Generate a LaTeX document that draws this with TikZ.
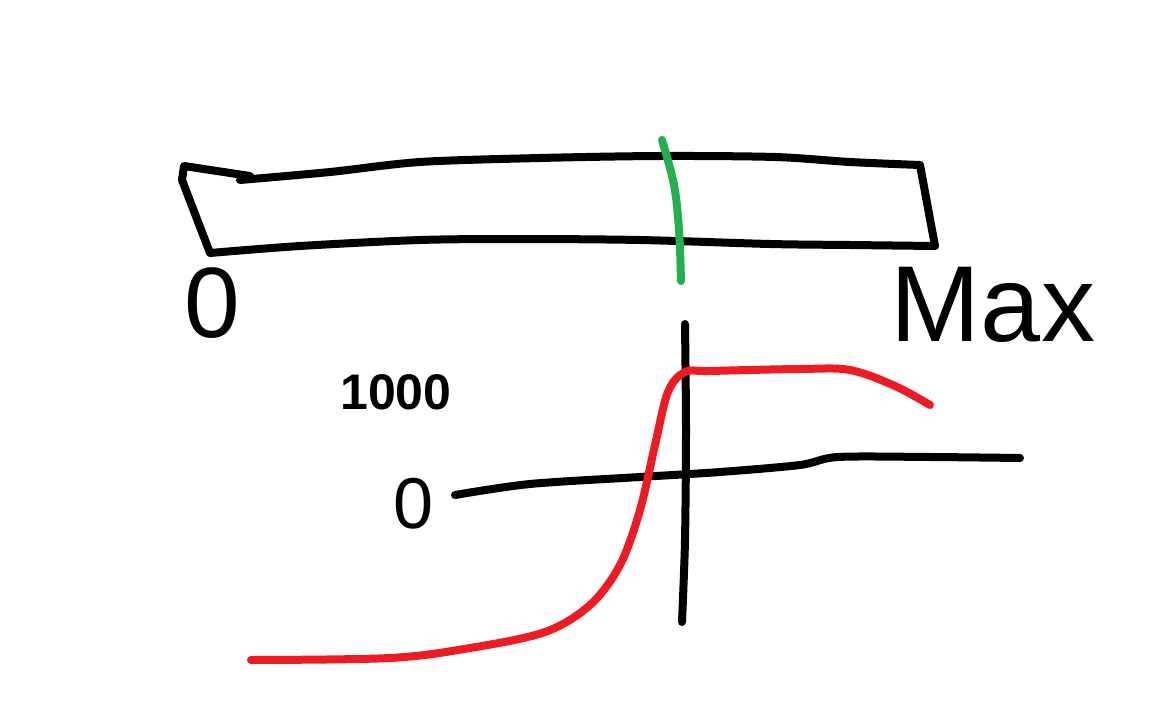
\documentclass[tikz,border=0pt]{standalone}
\usepackage{fontspec}
\setmainfont{Liberation Sans}
\definecolor{paintgreen}{RGB}{34,177,76}
\definecolor{paintred}{RGB}{237,28,36}
\begin{document}
\begin{tikzpicture}[x=1pt,y=-1pt,
  stroke/.style={line width=8pt,line cap=round,line join=round},
  lbl/.style={inner sep=0pt,anchor=center}]
\useasboundingbox[fill=white] (0,0) rectangle (1152,720);
% bar outline
\draw[stroke,black] plot[smooth,tension=0.5] coordinates {(240,180) (330,172) (420,162) (540,158) (660,156) (775,157) (850,162) (920,165)}
  -- (935,246)
  plot[smooth,tension=0.5] coordinates {(935,246) (850,245) (770,244) (640,240) (520,239) (420,240) (300,246) (210,253)}
  -- (182,180) -- (184,166) -- (250,176);
% green marker
\draw[stroke,paintgreen] plot[smooth,tension=0.6] coordinates {(662,140) (674,185) (679,230) (681,281)};
% vertical axis
\draw[stroke,black] plot[smooth,tension=0.5] coordinates {(685,324) (686,430) (685,540) (682,622)};
% horizontal axis
\draw[stroke,black] plot[smooth,tension=0.5] coordinates {(455,495) (530,484) (640,477) (720,472) (800,465) (838,457) (930,457) (1020,458)};
% red curve
\draw[stroke,paintred] plot[smooth,tension=0.55] coordinates {(251,660) (390,658) (470,648) (545,632) (590,605) (620,565) (640,510) (655,445) (668,392) (685,372) (710,371) (800,369) (850,370) (895,386) (930,405)};
% labels
\node[lbl,font=\fontsize{100}{100}\selectfont] (zero) at (212,303) {0};
\node[lbl,font=\fontsize{108}{108}\selectfont] (max) at (993,305) {Max};
\node[lbl,font=\bfseries\fontsize{50}{50}\selectfont] (thousand) at (396,392) {1000};
\node[lbl,font=\fontsize{72}{72}\selectfont] (zerob) at (414,504) {0};
\end{tikzpicture}
\end{document}
